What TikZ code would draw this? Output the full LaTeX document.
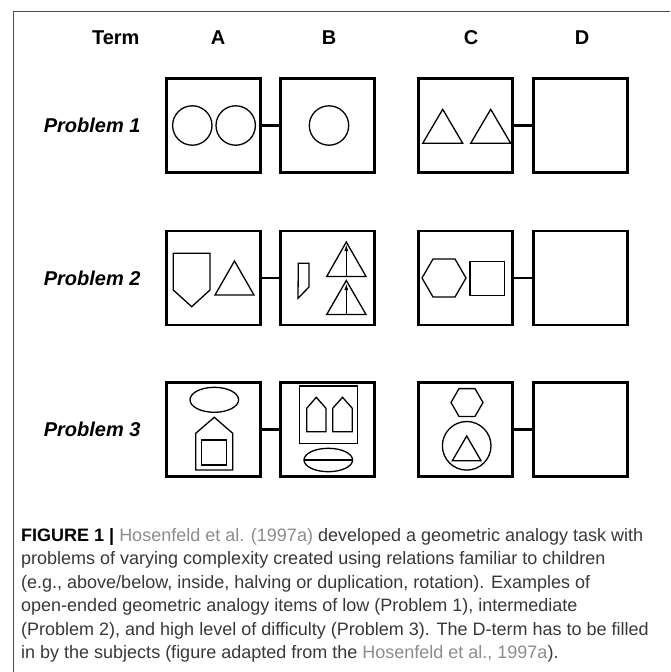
\documentclass[tikz,border=0pt]{standalone}
\usepackage{fontspec}
\setmainfont{Liberation Sans}
\usetikzlibrary{arrows.meta}
\definecolor{linkgray}{gray}{0.55}
\definecolor{capgray}{gray}{0.22}
\tikzset{
  box/.style={draw, line width=2.8pt, minimum width=94pt, minimum height=94pt, inner sep=0pt},
  link/.style={line width=2.8pt},
  fig/.style={line width=1.3pt},
  head/.style={font=\bfseries\fontsize{20}{23}\selectfont},
  prob/.style={font=\bfseries\itshape\fontsize{20}{23}\selectfont, anchor=east},
}
\begin{document}
\begin{tikzpicture}[x=1pt,y=-1pt]
  \useasboundingbox (0,0) rectangle (670,672);
  \draw[gray!60!black, line width=0.8pt] (13,672) -- (13,11) -- (670,11);

  \node[head, anchor=east] (term) at (143,38) {Term};
  \node[head] (ha) at (218,38) {A};
  \node[head] (hb) at (329,38) {B};
  \node[head] (hc) at (471,38) {C};
  \node[head] (hd) at (582,38) {D};

  \node[prob] (p1) at (144,125.5) {Problem 1};
  \node[prob] (p2) at (144,278) {Problem 2};
  \node[prob] (p3) at (144,429.5) {Problem 3};

  \node[box] (a1) at (213.2,125.5) {};
  \node[box] (b1) at (327.7,125.5) {};
  \node[box] (c1) at (465.7,125.5) {};
  \node[box] (d1) at (580.5,125.5) {};
  \node[box] (a2) at (213.2,278) {};
  \node[box] (b2) at (327.7,278) {};
  \node[box] (c2) at (465.7,278) {};
  \node[box] (d2) at (580.5,278) {};
  \node[box] (a3) at (213.2,429.5) {};
  \node[box] (b3) at (327.7,429.5) {};
  \node[box] (c3) at (465.7,429.5) {};
  \node[box] (d3) at (580.5,429.5) {};

  \begin{scope}[link]
    \draw (a1) -- (b1);
    \draw (c1) -- (d1);
    \draw (a2) -- (b2);
    \draw (c2) -- (d2);
    \draw (a3) -- (b3);
    \draw (c3) -- (d3);
  \end{scope}

  \begin{scope}[fig]
    \draw (192.3,125.5) circle (19.7);
    \draw (235.7,125.5) circle (19.7);
    \draw (329,125.5) circle (19.7);
    \draw (442.7,109.3) -- (462.7,143.3) -- (422.7,143.3) -- cycle;
    \draw (490.7,109.3) -- (510.7,143.3) -- (470.7,143.3) -- cycle;

    \draw (173.3,253.3) -- (210,253.3) -- (210,290) -- (191.7,306.7) -- (173.3,290) -- cycle;
    \draw (234.5,261) -- (254,295) -- (215,295) -- cycle;
    \draw (298.3,263.3) -- (309,263.3) -- (309,287) -- (298,298.3) -- cycle;
    \draw (346.3,242) -- (366,276.5) -- (326.7,276.5) -- cycle;
    \draw (346.3,280.5) -- (366,314.5) -- (326.7,314.5) -- cycle;
    \draw[-{Latex[length=7pt,width=4pt]}] (346.3,276.5) -- (346.3,244);
    \draw[-{Latex[length=7pt,width=4pt]}] (346.3,314.5) -- (346.3,283);
    \draw (422,278) -- (433,259) -- (455,259) -- (466,278) -- (455,297) -- (433,297) -- cycle;
    \draw (470,261.7) rectangle (504.3,295.3);

    \draw (214.3,399.8) ellipse [x radius=24.3, y radius=12.5];
    \draw (195.7,433.3) -- (214.3,417.3) -- (232.7,433.3) -- (232.7,470) -- (195.7,470) -- cycle;
    \draw (201.7,440) rectangle (226.7,465);
    \draw (299.3,386) rectangle (357.3,443.3);
    \draw (306.7,408.3) -- (316.3,397.3) -- (326,408.3) -- (326,431.7) -- (306.7,431.7) -- cycle;
    \draw (332.7,408.3) -- (342.5,397.3) -- (352.3,408.3) -- (352.3,431.7) -- (332.7,431.7) -- cycle;
    \draw (328.3,460) ellipse [x radius=24.3, y radius=11.7];
    \draw (304,460) -- (352.6,460);
    \draw (451,402.5) -- (459,388.6) -- (475,388.6) -- (483,402.5) -- (475,416.4) -- (459,416.4) -- cycle;
    \draw (466.7,445.8) circle (24.3);
    \draw (466.7,436) -- (481,460.7) -- (452.3,460.7) -- cycle;
  \end{scope}

  \node[anchor=north west, align=left, inner sep=0pt, text=capgray,
        font=\fontsize{18}{23.5}\selectfont] (caption) at (21,528)
    {\textbf{\color{black}FIGURE 1 |} {\color{linkgray}Hosenfeld et al. (1997a)} developed a geometric analogy task with\\
     problems of varying complexity created using relations familiar to children\\
     (e.g., above/below, inside, halving or duplication, rotation). Examples of\\
     open-ended geometric analogy items of low (Problem 1), intermediate\\
     (Problem 2), and high level of difficulty (Problem 3). The D-term has to be filled\\
     in by the subjects (figure adapted from the {\color{linkgray}Hosenfeld et al., 1997a}).};
\end{tikzpicture}
\end{document}
